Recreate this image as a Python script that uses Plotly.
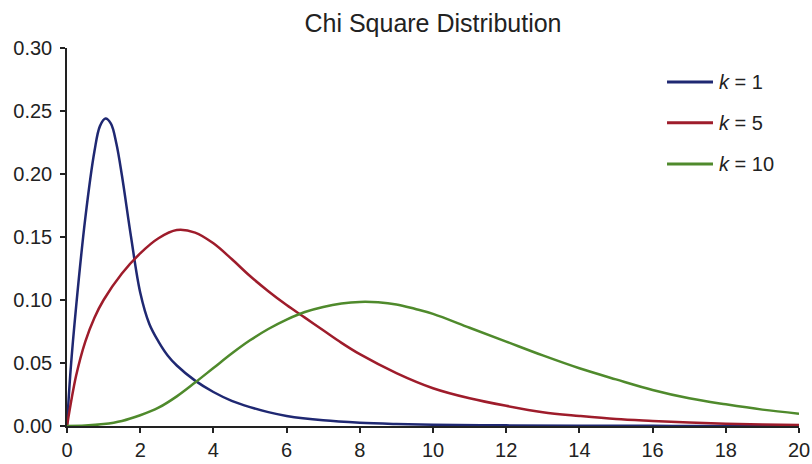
import plotly.graph_objects as go

# Curve points (x, density) for each series
x_k1 = [0, 0.1, 0.25, 0.5, 0.75, 0.9, 1.05, 1.2, 1.35, 1.5, 1.75, 2.0, 2.25, 2.5, 2.75, 3.0, 3.5, 4.0, 4.5, 5.0, 5.5, 6.0, 7.0, 8.0, 9.0, 10.0, 12.0, 14.0, 16.0, 18.0, 20.0]
y_k1 = [0, 0.045, 0.095, 0.165, 0.218, 0.238, 0.244, 0.240, 0.224, 0.199, 0.150, 0.106, 0.081, 0.067, 0.056, 0.048, 0.036, 0.027, 0.020, 0.015, 0.011, 0.008, 0.0045, 0.0026, 0.0016, 0.0010, 0.0005, 0.0002, 0.0001, 0.0, 0.0]

x_k5 = [0, 0.25, 0.5, 0.75, 1.0, 1.5, 2.0, 2.5, 3.0, 3.5, 4.0, 4.5, 5.0, 5.5, 6.0, 6.5, 7.0, 7.5, 8.0, 9.0, 10.0, 11.0, 12.0, 13.0, 14.0, 15.0, 16.0, 17.0, 18.0, 19.0, 20.0]
y_k5 = [0, 0.040, 0.067, 0.086, 0.100, 0.121, 0.137, 0.149, 0.1555, 0.1535, 0.145, 0.1325, 0.119, 0.107, 0.096, 0.086, 0.076, 0.066, 0.057, 0.042, 0.030, 0.022, 0.016, 0.011, 0.008, 0.0055, 0.004, 0.0027, 0.0018, 0.0012, 0.0008]

x_k10 = [0, 0.5, 1.0, 1.5, 2.0, 2.5, 3.0, 3.5, 4.0, 4.5, 5.0, 5.5, 6.0, 6.5, 7.0, 7.5, 8.0, 8.5, 9.0, 9.5, 10.0, 11.0, 12.0, 13.0, 14.0, 15.0, 16.0, 17.0, 18.0, 19.0, 20.0]
y_k10 = [0, 0.0003, 0.0015, 0.004, 0.0085, 0.0145, 0.0235, 0.0345, 0.046, 0.0575, 0.068, 0.077, 0.0845, 0.0905, 0.0945, 0.0972, 0.0985, 0.0982, 0.0965, 0.093, 0.089, 0.078, 0.067, 0.056, 0.0458, 0.037, 0.0286, 0.022, 0.0172, 0.013, 0.0098]

series = [
    ("<i>k</i> = 1", x_k1, y_k1, "#1f2872"),
    ("<i>k</i> = 5", x_k5, y_k5, "#9e1c2b"),
    ("<i>k</i> = 10", x_k10, y_k10, "#4f8a2c"),
]

x_ticks = [0, 2, 4, 6, 8, 10, 12, 14, 16, 18, 20]
y_ticks = [0.00, 0.05, 0.10, 0.15, 0.20, 0.25, 0.30]

FONT = "Liberation Sans, Arial, sans-serif"
TEXT = "#222222"

fig = go.Figure()
for name, xs, ys, color in series:
    fig.add_trace(go.Scatter(
        x=xs, y=ys, name=name, mode="lines",
        line=dict(color=color, width=2.5, shape="spline", smoothing=1.0),
        showlegend=False,
    ))

# Key in the upper right: a line sample and a label per series
key_rows = [0.910, 0.802, 0.693]
for (name, _, _, color), ky in zip(series, key_rows):
    fig.add_shape(type="line", xref="paper", yref="paper",
                  x0=0.8197, x1=0.8825, y0=ky, y1=ky,
                  line=dict(color=color, width=3))
    fig.add_annotation(text=name, xref="paper", yref="paper",
                       x=0.888, y=ky, xanchor="left", yanchor="middle",
                       showarrow=False,
                       font=dict(family=FONT, size=20, color=TEXT))

fig.update_layout(
    width=812, height=464,
    margin=dict(l=67, r=13, t=48, b=38),
    paper_bgcolor="white", plot_bgcolor="white",
    font=dict(family=FONT, size=20, color=TEXT),
    title=dict(
        text="Chi Square Distribution",
        font=dict(family=FONT, size=25, color=TEXT),
        x=0.5, xref="paper", xanchor="center",
        y=1 - 23 / 464, yref="container", yanchor="middle",
    ),
    xaxis=dict(
        range=[0, 20], tickvals=x_ticks, ticktext=[str(v) for v in x_ticks],
        showgrid=False, zeroline=False, automargin=False,
        showline=True, linecolor=TEXT, linewidth=1.5,
        ticks="outside", ticklen=5, tickcolor=TEXT, tickwidth=1.5,
    ),
    yaxis=dict(
        range=[0, 0.30], tickvals=y_ticks, ticktext=[f"{v:.2f}" for v in y_ticks],
        showgrid=False, zeroline=False, automargin=False,
        showline=True, linecolor=TEXT, linewidth=1.5,
        ticks="outside", ticklen=5, tickcolor=TEXT, tickwidth=1.5,
        ticklabelstandoff=4,
    ),
)

fig.write_html("out.html")
